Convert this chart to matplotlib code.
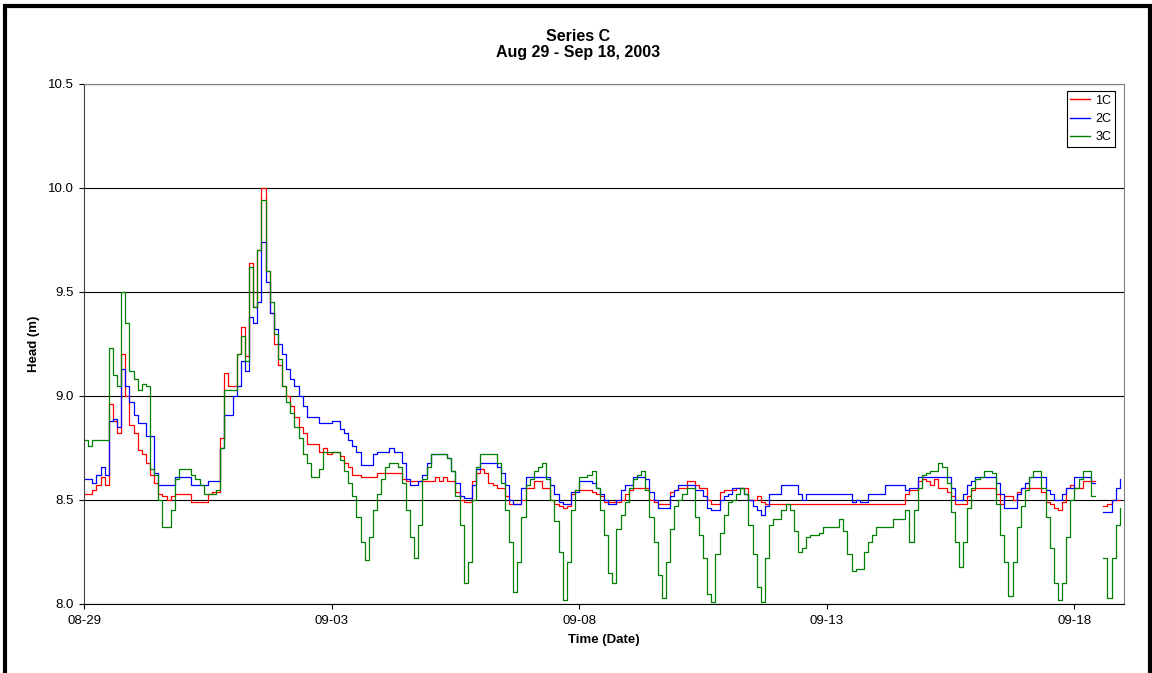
"""
Head time series, Series C (Aug 29 - Sep 18, 2003)
"""

import numpy as np
import pandas as pd
import matplotlib
matplotlib.use('Agg')
import matplotlib.pyplot as plt
import matplotlib.dates as mdates
from matplotlib.patches import Rectangle

plt.rcParams['font.family'] = ['Liberation Sans', 'DejaVu Sans']

nan = np.nan

# readings every 2 hours from 2003-08-29 00:00, one row per day
series_names = ['1C', '2C', '3C']
series_colors = ['#ff0000', '#0000ff', '#008000']

head_1c = [
    8.53, 8.53, 8.55, 8.57, 8.61, 8.57, 8.96, 8.88, 8.82, 9.20, 9.00, 8.86,
    8.82, 8.74, 8.72, 8.68, 8.62, 8.58, 8.53, 8.52, 8.50, 8.52, 8.53, 8.53,
    8.53, 8.53, 8.49, 8.49, 8.49, 8.49, 8.53, 8.54, 8.54, 8.80, 9.11, 9.05,
    9.05, 9.20, 9.33, 9.19, 9.64, 9.43, 9.70, 10.00, 9.60, 9.40, 9.25, 9.15,
    9.05, 9.00, 8.95, 8.90, 8.85, 8.82, 8.77, 8.77, 8.77, 8.73, 8.75, 8.72,
    8.73, 8.73, 8.71, 8.68, 8.66, 8.62, 8.62, 8.61, 8.61, 8.61, 8.61, 8.63,
    8.63, 8.63, 8.63, 8.63, 8.63, 8.60, 8.59, 8.59, 8.59, 8.59, 8.59, 8.59,
    8.59, 8.61, 8.59, 8.61, 8.59, 8.59, 8.54, 8.50, 8.49, 8.49, 8.59, 8.63,
    8.65, 8.63, 8.58, 8.57, 8.56, 8.56, 8.52, 8.48, 8.48, 8.48, 8.50, 8.56,
    8.56, 8.59, 8.59, 8.56, 8.56, 8.50, 8.48, 8.47, 8.46, 8.47, 8.53, 8.55,
    8.55, 8.55, 8.55, 8.54, 8.53, 8.52, 8.49, 8.49, 8.49, 8.49, 8.50, 8.53,
    8.55, 8.56, 8.56, 8.56, 8.56, 8.50, 8.49, 8.48, 8.48, 8.48, 8.54, 8.55,
    8.56, 8.56, 8.59, 8.59, 8.57, 8.56, 8.56, 8.50, 8.48, 8.48, 8.54, 8.55,
    8.55, 8.55, 8.56, 8.56, 8.56, 8.50, 8.50, 8.52, 8.49, 8.48, 8.48, 8.48,
    8.48, 8.48, 8.48, 8.48, 8.48, 8.48, 8.48, 8.48, 8.48, 8.48, 8.48, 8.48,
    8.48, 8.48, 8.48, 8.48, 8.48, 8.48, 8.48, 8.48, 8.48, 8.48, 8.48, 8.48,
    8.48, 8.48, 8.48, 8.48, 8.48, 8.48, 8.48, 8.53, 8.55, 8.55, 8.59, 8.60,
    8.59, 8.57, 8.60, 8.56, 8.56, 8.54, 8.52, 8.48, 8.48, 8.48, 8.52, 8.55,
    8.56, 8.56, 8.56, 8.56, 8.56, 8.53, 8.48, 8.52, 8.52, 8.50, 8.54, 8.56,
    8.56, 8.56, 8.56, 8.56, 8.54, 8.49, 8.48, 8.46, 8.45, 8.49, 8.56, 8.57,
    8.56, 8.56, 8.59, 8.59, 8.59, nan, nan, 8.47, 8.48, 8.50, 8.50, 8.50,
]

head_2c = [
    8.60, 8.60, 8.58, 8.62, 8.66, 8.62, 8.88, 8.89, 8.85, 9.13, 9.05, 8.97,
    8.91, 8.87, 8.87, 8.81, 8.81, 8.63, 8.57, 8.57, 8.57, 8.57, 8.61, 8.61,
    8.61, 8.61, 8.57, 8.57, 8.57, 8.57, 8.59, 8.59, 8.59, 8.75, 8.91, 8.91,
    9.00, 9.05, 9.17, 9.12, 9.38, 9.35, 9.45, 9.74, 9.55, 9.40, 9.32, 9.25,
    9.20, 9.13, 9.08, 9.05, 9.00, 8.95, 8.90, 8.90, 8.90, 8.87, 8.87, 8.87,
    8.88, 8.88, 8.84, 8.82, 8.79, 8.76, 8.73, 8.67, 8.67, 8.67, 8.72, 8.73,
    8.73, 8.73, 8.75, 8.73, 8.73, 8.68, 8.60, 8.57, 8.57, 8.59, 8.62, 8.68,
    8.72, 8.72, 8.72, 8.72, 8.70, 8.64, 8.58, 8.52, 8.51, 8.51, 8.57, 8.65,
    8.68, 8.68, 8.68, 8.68, 8.66, 8.63, 8.57, 8.50, 8.48, 8.48, 8.56, 8.61,
    8.61, 8.61, 8.61, 8.61, 8.61, 8.57, 8.53, 8.49, 8.48, 8.48, 8.54, 8.54,
    8.59, 8.59, 8.59, 8.58, 8.56, 8.53, 8.50, 8.48, 8.48, 8.50, 8.55, 8.57,
    8.57, 8.61, 8.61, 8.61, 8.60, 8.54, 8.50, 8.46, 8.46, 8.46, 8.52, 8.55,
    8.57, 8.57, 8.57, 8.57, 8.55, 8.55, 8.52, 8.46, 8.45, 8.45, 8.50, 8.52,
    8.53, 8.56, 8.56, 8.56, 8.53, 8.50, 8.47, 8.45, 8.43, 8.47, 8.53, 8.53,
    8.53, 8.57, 8.57, 8.57, 8.57, 8.53, 8.50, 8.53, 8.53, 8.53, 8.53, 8.53,
    8.53, 8.53, 8.53, 8.53, 8.53, 8.53, 8.49, 8.50, 8.49, 8.49, 8.53, 8.53,
    8.53, 8.53, 8.57, 8.57, 8.57, 8.57, 8.57, 8.55, 8.56, 8.56, 8.61, 8.61,
    8.61, 8.61, 8.61, 8.61, 8.61, 8.61, 8.56, 8.50, 8.50, 8.53, 8.57, 8.59,
    8.61, 8.61, 8.61, 8.61, 8.61, 8.58, 8.53, 8.46, 8.46, 8.46, 8.53, 8.56,
    8.58, 8.61, 8.61, 8.61, 8.61, 8.55, 8.53, 8.50, 8.50, 8.53, 8.56, 8.56,
    8.61, 8.61, 8.61, 8.61, 8.58, nan, nan, 8.44, 8.44, 8.50, 8.56, 8.60,
]

head_3c = [
    8.79, 8.76, 8.79, 8.79, 8.79, 8.79, 9.23, 9.10, 9.05, 9.50, 9.35, 9.12,
    9.08, 9.03, 9.06, 9.05, 8.65, 8.62, 8.50, 8.37, 8.37, 8.45, 8.60, 8.65,
    8.65, 8.65, 8.62, 8.60, 8.57, 8.53, 8.53, 8.53, 8.55, 8.75, 9.03, 9.03,
    9.03, 9.20, 9.29, 9.17, 9.62, 9.43, 9.70, 9.94, 9.60, 9.45, 9.30, 9.18,
    9.05, 8.97, 8.92, 8.85, 8.80, 8.72, 8.68, 8.61, 8.61, 8.65, 8.73, 8.73,
    8.73, 8.73, 8.69, 8.64, 8.58, 8.52, 8.42, 8.30, 8.21, 8.32, 8.45, 8.53,
    8.60, 8.66, 8.68, 8.68, 8.66, 8.58, 8.45, 8.32, 8.22, 8.38, 8.60, 8.66,
    8.72, 8.72, 8.72, 8.72, 8.70, 8.64, 8.52, 8.38, 8.10, 8.20, 8.50, 8.66,
    8.72, 8.72, 8.72, 8.72, 8.68, 8.58, 8.45, 8.30, 8.06, 8.20, 8.42, 8.57,
    8.60, 8.64, 8.66, 8.68, 8.60, 8.50, 8.40, 8.25, 8.02, 8.20, 8.45, 8.55,
    8.61, 8.61, 8.62, 8.64, 8.56, 8.45, 8.33, 8.15, 8.10, 8.36, 8.43, 8.49,
    8.56, 8.60, 8.62, 8.64, 8.55, 8.42, 8.30, 8.14, 8.03, 8.20, 8.36, 8.47,
    8.50, 8.53, 8.56, 8.56, 8.42, 8.33, 8.22, 8.05, 8.01, 8.24, 8.34, 8.43,
    8.49, 8.50, 8.53, 8.56, 8.53, 8.38, 8.24, 8.08, 8.01, 8.22, 8.38, 8.41,
    8.41, 8.45, 8.48, 8.45, 8.35, 8.25, 8.27, 8.32, 8.33, 8.33, 8.34, 8.37,
    8.37, 8.37, 8.37, 8.41, 8.35, 8.24, 8.16, 8.17, 8.17, 8.25, 8.30, 8.33,
    8.37, 8.37, 8.37, 8.37, 8.41, 8.41, 8.41, 8.45, 8.30, 8.45, 8.56, 8.62,
    8.63, 8.64, 8.64, 8.68, 8.66, 8.58, 8.44, 8.30, 8.18, 8.30, 8.46, 8.56,
    8.60, 8.61, 8.64, 8.64, 8.63, 8.48, 8.33, 8.20, 8.04, 8.20, 8.37, 8.47,
    8.55, 8.61, 8.64, 8.64, 8.56, 8.42, 8.27, 8.10, 8.02, 8.10, 8.32, 8.50,
    8.56, 8.60, 8.64, 8.64, 8.52, nan, nan, 8.22, 8.03, 8.22, 8.38, 8.46,
]

times = pd.date_range('2003-08-29', periods=len(head_1c), freq='2h')
tick_dates = pd.date_range('2003-08-29', '2003-09-18', freq='5D')
y_ticks = [8.0, 8.5, 9.0, 9.5, 10.0, 10.5]

fig = plt.figure(figsize=(11.52, 6.73), dpi=100)
ax = fig.add_axes([84/1152, 1 - 604/673, (1124 - 84)/1152, (604 - 84)/673])

for vals, name, col in zip([head_1c, head_2c, head_3c], series_names, series_colors):
    ax.plot(times, vals, color=col, linewidth=0.9, drawstyle='steps-post', label=name)

ax.set_xlim(pd.Timestamp('2003-08-29'), pd.Timestamp('2003-09-19'))
ax.set_ylim(8.0, 10.5)
ax.set_xticks(tick_dates)
ax.xaxis.set_major_formatter(mdates.DateFormatter('%m-%d'))
ax.set_yticks(y_ticks)
ax.set_yticklabels(['%.1f' % v for v in y_ticks])
ax.tick_params(axis='both', direction='out', length=3.6, width=0.8,
               labelsize=9.5, colors='black')
ax.tick_params(axis='y', pad=3.5)
ax.tick_params(axis='x', pad=4.5)
for tl in ax.get_xticklines() + ax.get_yticklines():
    tl.set_color('#404040')

ax.grid(axis='y', color='black', linewidth=0.8)
ax.set_axisbelow(True)
ax.spines['top'].set_color('#808080')
ax.spines['right'].set_color('#808080')
ax.spines['left'].set_color('#404040')
ax.spines['bottom'].set_color('black')
for s in ax.spines.values():
    s.set_linewidth(0.8)

fig.text(578/1152, 1 - 40.7/673, 'Series C', ha='center', va='baseline',
         fontsize=11.5, fontweight='bold')
fig.text(578/1152, 1 - 57.3/673, 'Aug 29 - Sep 18, 2003', ha='center', va='baseline',
         fontsize=11.5, fontweight='bold')
fig.text(604/1152, 1 - 642.7/673, 'Time (Date)', ha='center', va='baseline',
         fontsize=9.5, fontweight='bold')
fig.text(33.5/1152, 1 - 344/673, 'Head (m)', ha='center', va='center',
         rotation=90, fontsize=9.5, fontweight='bold')

leg = ax.legend(loc='upper right', bbox_to_anchor=(1115/1152, 1 - 91/673),
                bbox_transform=fig.transFigure, fontsize=9, fancybox=False,
                framealpha=1, edgecolor='black', borderaxespad=0,
                handlelength=1.6, handletextpad=0.4, borderpad=0.3,
                labelspacing=0.5)
leg.get_frame().set_linewidth(0.8)
for ln in leg.get_lines():
    ln.set_linewidth(1.0)

# chart border
fig.patches.append(Rectangle((5/1152, -0.05), (1149.5 - 5)/1152, 1.05 - 6/673,
                             transform=fig.transFigure, fill=False,
                             edgecolor='black', linewidth=3, clip_on=False))

fig.savefig('out.png', dpi=100)
plt.close(fig)
